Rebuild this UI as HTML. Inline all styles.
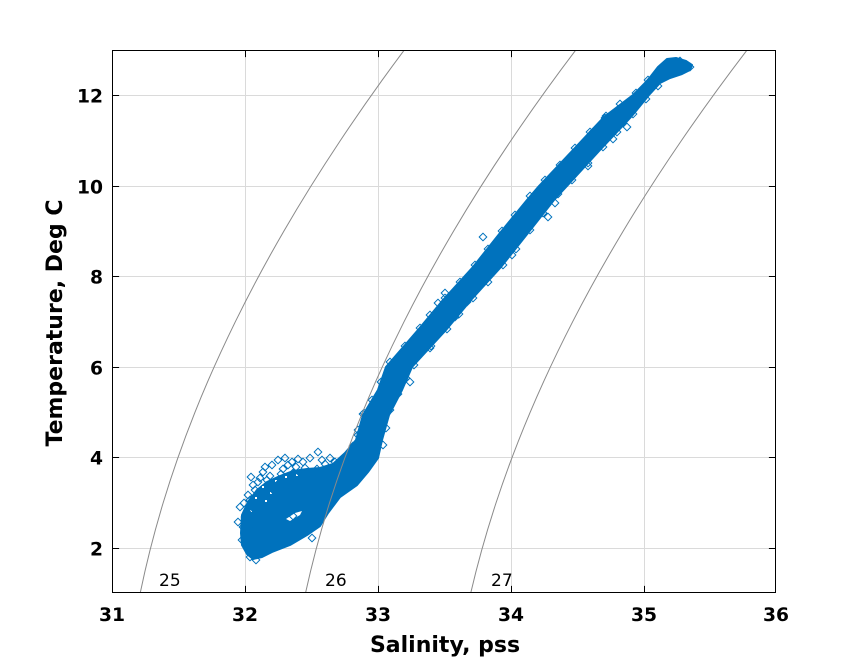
<!DOCTYPE html>
<html>
<head>
<meta charset="utf-8">
<style>
html,body{margin:0;padding:0;background:#fff;}
svg{display:block;}
text{font-family:"DejaVu Sans","Liberation Sans",sans-serif;}
</style>
</head>
<body>
<svg width="859" height="667" viewBox="0 0 859 667" xmlns="http://www.w3.org/2000/svg">
<rect x="0" y="0" width="859" height="667" fill="#fff"/>
<defs>
<clipPath id="ax"><rect x="112.5" y="50.5" width="663" height="542"/></clipPath>
</defs>
<!-- grid -->
<g stroke="#dadada" stroke-width="1" fill="none">
<path d="M245.5 50.5V592.5M378.5 50.5V592.5M511.5 50.5V592.5M644.5 50.5V592.5"/>
<path d="M112.5 548.5H775.5M112.5 457.5H775.5M112.5 367.5H775.5M112.5 276.5H775.5M112.5 186.5H775.5M112.5 95.5H775.5"/>
</g>
<g clip-path="url(#ax)">
<!-- scatter band -->
<polygon fill="#0072BD" stroke="#0072BD" stroke-width="2" stroke-linejoin="round" points="676,58 667,59 658,67 651,76 645,83 633,95 604,117 573,150 539,186 527,200 500,233 473,267 443,300 418,330 386,367 378,390 363,415 356,440 345,453 333,464 320,468 307,469 293,471 280,476 267,482 257,490 248,502 242,515 241,533 242,545 247,554 253,559 262,557 272,552 290,545 307,535 320,526 328,513 340,497 357,485 368,472 378,458 382,440 389,415 402,390 412,367 446,330 471,300 501,267 528,233 554,200 567,186 600,150 631,117 649,95 660,83 670,78 682,74 690,70 692,65 686,61"/>
<polygon fill="#fff" points="286,519 295,513 302,511 300,515 290,521"/>
<g fill="#fff">
<rect x="262" y="486" width="2" height="2"/><rect x="275" y="480" width="2" height="2"/><rect x="285" y="476" width="2" height="2"/>
<rect x="255" y="497" width="2" height="2"/><rect x="270" y="492" width="2" height="2"/><rect x="296" y="474" width="2" height="2"/>
<rect x="250" y="510" width="2" height="2"/><rect x="265" y="500" width="2" height="2"/>
</g>
<path fill="none" stroke="#0072BD" stroke-width="1" d="
M682.2 66l3.8-3.8 3.8 3.8-3.8 3.8z M686.2 67l3.8-3.8 3.8 3.8-3.8 3.8z M676.2 61l3.8-3.8 3.8 3.8-3.8 3.8z
M623.2 127l3.8-3.8 3.8 3.8-3.8 3.8z M614.2 112l3.8-3.8 3.8 3.8-3.8 3.8z M601.2 118l3.8-3.8 3.8 3.8-3.8 3.8z M589.2 132l3.8-3.8 3.8 3.8-3.8 3.8z M609.2 139l3.8-3.8 3.8 3.8-3.8 3.8z
M569.2 156l3.8-3.8 3.8 3.8-3.8 3.8z M584.2 166l3.8-3.8 3.8 3.8-3.8 3.8z M549.2 177l3.8-3.8 3.8 3.8-3.8 3.8z M533.2 195l3.8-3.8 3.8 3.8-3.8 3.8z
M551.2 203l3.8-3.8 3.8 3.8-3.8 3.8z M523.2 207l3.8-3.8 3.8 3.8-3.8 3.8z M544.2 217l3.8-3.8 3.8 3.8-3.8 3.8z
M479.2 237l3.8-3.8 3.8 3.8-3.8 3.8z M508.2 255l3.8-3.8 3.8 3.8-3.8 3.8z M441.2 293l3.8-3.8 3.8 3.8-3.8 3.8z M434.2 303l3.8-3.8 3.8 3.8-3.8 3.8z M463.2 302l3.8-3.8 3.8 3.8-3.8 3.8z
M451.2 317l3.8-3.8 3.8 3.8-3.8 3.8z M427.2 346l3.8-3.8 3.8 3.8-3.8 3.8z M398.2 357l3.8-3.8 3.8 3.8-3.8 3.8z M406.2 382l3.8-3.8 3.8 3.8-3.8 3.8z M370.2 402l3.8-3.8 3.8 3.8-3.8 3.8z
M359.2 414l3.8-3.8 3.8 3.8-3.8 3.8z M379.2 418l3.8-3.8 3.8 3.8-3.8 3.8z M354.2 435l3.8-3.8 3.8 3.8-3.8 3.8z
M314.2 452l3.8-3.8 3.8 3.8-3.8 3.8z M294.2 459l3.8-3.8 3.8 3.8-3.8 3.8z M321.2 464l3.8-3.8 3.8 3.8-3.8 3.8z M313.2 469l3.8-3.8 3.8 3.8-3.8 3.8z M284.2 465l3.8-3.8 3.8 3.8-3.8 3.8z
M279.2 469l3.8-3.8 3.8 3.8-3.8 3.8z M289.2 473l3.8-3.8 3.8 3.8-3.8 3.8z M296.2 473l3.8-3.8 3.8 3.8-3.8 3.8z M259.2 472l3.8-3.8 3.8 3.8-3.8 3.8z M263.2 480l3.8-3.8 3.8 3.8-3.8 3.8z
M254.2 482l3.8-3.8 3.8 3.8-3.8 3.8z M273.2 485l3.8-3.8 3.8 3.8-3.8 3.8z M251.2 490l3.8-3.8 3.8 3.8-3.8 3.8z M236.2 507l3.8-3.8 3.8 3.8-3.8 3.8z M244.2 510l3.8-3.8 3.8 3.8-3.8 3.8z
M241.2 517l3.8-3.8 3.8 3.8-3.8 3.8z M239.2 527l3.8-3.8 3.8 3.8-3.8 3.8z M248.2 530l3.8-3.8 3.8 3.8-3.8 3.8z M246.2 557l3.8-3.8 3.8 3.8-3.8 3.8z M269.2 547l3.8-3.8 3.8 3.8-3.8 3.8z
M276.2 542l3.8-3.8 3.8 3.8-3.8 3.8z M306.2 528l3.8-3.8 3.8 3.8-3.8 3.8z M316.2 517l3.8-3.8 3.8 3.8-3.8 3.8z M308.2 538l3.8-3.8 3.8 3.8-3.8 3.8z M341.2 488l3.8-3.8 3.8 3.8-3.8 3.8z
M266.2 476l3.8-3.8 3.8 3.8-3.8 3.8z M301.2 468l3.8-3.8 3.8 3.8-3.8 3.8z M258.2 495l3.8-3.8 3.8 3.8-3.8 3.8z M246.2 500l3.8-3.8 3.8 3.8-3.8 3.8z M234.2 522l3.8-3.8 3.8 3.8-3.8 3.8z
M238.2 540l3.8-3.8 3.8 3.8-3.8 3.8z M252.2 560l3.8-3.8 3.8 3.8-3.8 3.8z M289.2 516l3.8-3.8 3.8 3.8-3.8 3.8z
M268.2 465l3.8-3.8 3.8 3.8-3.8 3.8z M274.2 460l3.8-3.8 3.8 3.8-3.8 3.8z M281.2 458l3.8-3.8 3.8 3.8-3.8 3.8z M288.2 462l3.8-3.8 3.8 3.8-3.8 3.8z M299.2 462l3.8-3.8 3.8 3.8-3.8 3.8z
M306.2 458l3.8-3.8 3.8 3.8-3.8 3.8z M326.2 458l3.8-3.8 3.8 3.8-3.8 3.8z M331.2 462l3.8-3.8 3.8 3.8-3.8 3.8z M256.2 478l3.8-3.8 3.8 3.8-3.8 3.8z M249.2 485l3.8-3.8 3.8 3.8-3.8 3.8z
M244.2 495l3.8-3.8 3.8 3.8-3.8 3.8z M240.2 503l3.8-3.8 3.8 3.8-3.8 3.8z M271.2 492l3.8-3.8 3.8 3.8-3.8 3.8z M282.2 488l3.8-3.8 3.8 3.8-3.8 3.8z M292.2 482l3.8-3.8 3.8 3.8-3.8 3.8z
M304.2 478l3.8-3.8 3.8 3.8-3.8 3.8z M314.2 476l3.8-3.8 3.8 3.8-3.8 3.8z
M261.2 467l3.8-3.8 3.8 3.8-3.8 3.8z M247.2 477l3.8-3.8 3.8 3.8-3.8 3.8z M277.2 474l3.8-3.8 3.8 3.8-3.8 3.8z M292.2 467l3.8-3.8 3.8 3.8-3.8 3.8z M318.2 460l3.8-3.8 3.8 3.8-3.8 3.8z
M644.2 80l3.8-3.8 3.8 3.8-3.8 3.8z M632.2 93l3.8-3.8 3.8 3.8-3.8 3.8z M616.2 104l3.8-3.8 3.8 3.8-3.8 3.8z M602.2 116l3.8-3.8 3.8 3.8-3.8 3.8z M586.2 132l3.8-3.8 3.8 3.8-3.8 3.8z
M571.2 148l3.8-3.8 3.8 3.8-3.8 3.8z M556.2 165l3.8-3.8 3.8 3.8-3.8 3.8z M541.2 180l3.8-3.8 3.8 3.8-3.8 3.8z M526.2 196l3.8-3.8 3.8 3.8-3.8 3.8z M511.2 215l3.8-3.8 3.8 3.8-3.8 3.8z
M498.2 231l3.8-3.8 3.8 3.8-3.8 3.8z M484.2 249l3.8-3.8 3.8 3.8-3.8 3.8z M471.2 265l3.8-3.8 3.8 3.8-3.8 3.8z M456.2 282l3.8-3.8 3.8 3.8-3.8 3.8z M441.2 298l3.8-3.8 3.8 3.8-3.8 3.8z
M426.2 315l3.8-3.8 3.8 3.8-3.8 3.8z M416.2 328l3.8-3.8 3.8 3.8-3.8 3.8z M401.2 346l3.8-3.8 3.8 3.8-3.8 3.8z M386.2 362l3.8-3.8 3.8 3.8-3.8 3.8z M377.2 382l3.8-3.8 3.8 3.8-3.8 3.8z
M368.2 400l3.8-3.8 3.8 3.8-3.8 3.8z M360.2 413l3.8-3.8 3.8 3.8-3.8 3.8z M354.2 430l3.8-3.8 3.8 3.8-3.8 3.8z M349.2 446l3.8-3.8 3.8 3.8-3.8 3.8z
M654.2 86l3.8-3.8 3.8 3.8-3.8 3.8z M642.2 99l3.8-3.8 3.8 3.8-3.8 3.8z M629.2 114l3.8-3.8 3.8 3.8-3.8 3.8z M613.2 132l3.8-3.8 3.8 3.8-3.8 3.8z M599.2 147l3.8-3.8 3.8 3.8-3.8 3.8z
M584.2 163l3.8-3.8 3.8 3.8-3.8 3.8z M568.2 180l3.8-3.8 3.8 3.8-3.8 3.8z M554.2 194l3.8-3.8 3.8 3.8-3.8 3.8z M539.2 213l3.8-3.8 3.8 3.8-3.8 3.8z M526.2 230l3.8-3.8 3.8 3.8-3.8 3.8z
M512.2 249l3.8-3.8 3.8 3.8-3.8 3.8z M499.2 265l3.8-3.8 3.8 3.8-3.8 3.8z M484.2 282l3.8-3.8 3.8 3.8-3.8 3.8z M469.2 298l3.8-3.8 3.8 3.8-3.8 3.8z M455.2 314l3.8-3.8 3.8 3.8-3.8 3.8z
M443.2 329l3.8-3.8 3.8 3.8-3.8 3.8z M426.2 348l3.8-3.8 3.8 3.8-3.8 3.8z M410.2 365l3.8-3.8 3.8 3.8-3.8 3.8z M402.2 378l3.8-3.8 3.8 3.8-3.8 3.8z M394.2 394l3.8-3.8 3.8 3.8-3.8 3.8z
M386.2 410l3.8-3.8 3.8 3.8-3.8 3.8z M382.2 428l3.8-3.8 3.8 3.8-3.8 3.8z M379.2 445l3.8-3.8 3.8 3.8-3.8 3.8z"/>
<!-- density contours -->
<g fill="none" stroke="#8a8a8a" stroke-width="1">
<path d="M140.1,593.6 C146.3,563.4 154.0,533.2 163.1,503.0 C172.2,472.8 182.9,442.6 194.9,412.4 C206.9,382.2 220.5,352.0 235.3,321.8 C250.1,291.6 266.3,261.4 283.8,231.2 C301.3,201.0 320.2,170.8 340.3,140.6 C360.4,110.4 381.7,80.2 404.3,50.0"/>
<path d="M305.4,593.6 C312.0,563.4 320.0,533.2 329.5,503.0 C339.0,472.8 350.1,442.6 362.5,412.4 C374.9,382.2 388.8,352.0 404.0,321.8 C419.2,291.6 435.7,261.4 453.5,231.2 C471.3,201.0 490.5,170.8 510.9,140.6 C531.3,110.4 552.9,80.2 575.8,50.0"/>
<path d="M470.6,593.6 C477.6,563.4 486.1,533.2 496.0,503.0 C505.9,472.8 517.3,442.6 530.1,412.4 C542.9,382.2 557.1,352.0 572.6,321.8 C588.1,291.6 605.0,261.4 623.1,231.2 C641.2,201.0 660.7,170.8 681.4,140.6 C702.1,110.4 724.0,80.2 747.1,50.0"/>
</g>
</g>
<!-- contour labels -->
<g font-size="17" fill="#000">
<text x="159" y="586">25</text>
<text x="325" y="586">26</text>
<text x="491" y="586">27</text>
</g>
<!-- axes box -->
<rect x="112.5" y="50.5" width="663" height="542" fill="none" stroke="#000" stroke-width="1"/>
<!-- ticks -->
<g stroke="#000" stroke-width="1" fill="none">
<path d="M112.5 592.5v-6.6M245.5 592.5v-6.6M378.5 592.5v-6.6M511.5 592.5v-6.6M644.5 592.5v-6.6M775.5 592.5v-6.6"/>
<path d="M112.5 50.5v6.6M245.5 50.5v6.6M378.5 50.5v6.6M511.5 50.5v6.6M644.5 50.5v6.6M775.5 50.5v6.6"/>
<path d="M112.5 548.5h6.6M112.5 457.5h6.6M112.5 367.5h6.6M112.5 276.5h6.6M112.5 186.5h6.6M112.5 95.5h6.6"/>
<path d="M775.5 548.5h-6.6M775.5 457.5h-6.6M775.5 367.5h-6.6M775.5 276.5h-6.6M775.5 186.5h-6.6M775.5 95.5h-6.6"/>
</g>
<!-- tick labels -->
<g font-size="18.7" font-weight="bold" fill="#000" text-anchor="middle">
<text x="112" y="621">31</text>
<text x="245" y="621">32</text>
<text x="378" y="621">33</text>
<text x="511" y="621">34</text>
<text x="644" y="621">35</text>
<text x="776" y="621">36</text>
</g>
<g font-size="18.7" font-weight="bold" fill="#000" text-anchor="end">
<text x="103" y="555.3">2</text>
<text x="103" y="464.3">4</text>
<text x="103" y="374.3">6</text>
<text x="103" y="283.3">8</text>
<text x="103" y="193.3">10</text>
<text x="103" y="102.3">12</text>
</g>
<!-- axis labels -->
<text x="445" y="652" font-size="22" font-weight="bold" text-anchor="middle" fill="#000">Salinity, pss</text>
<text transform="translate(62,323) rotate(-90)" font-size="22" font-weight="bold" text-anchor="middle" fill="#000">Temperature, Deg C</text>
</svg>
</body>
</html>
